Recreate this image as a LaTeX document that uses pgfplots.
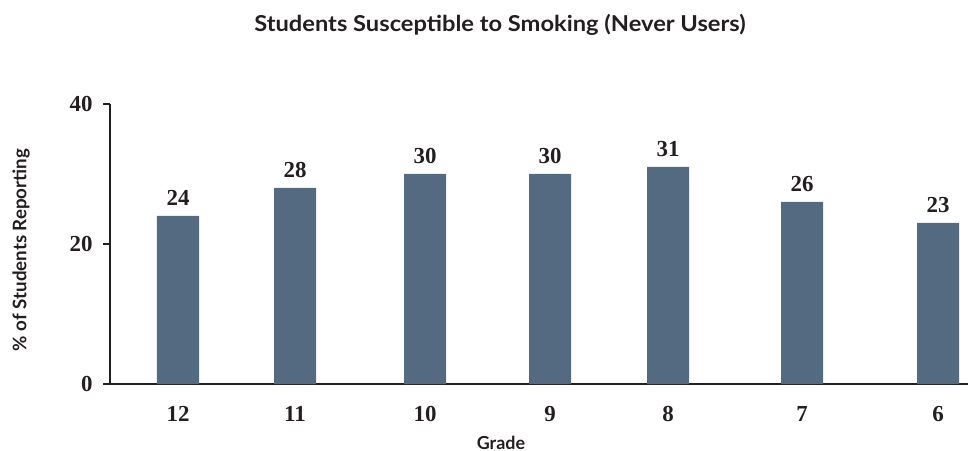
\documentclass[border=0pt]{standalone}
\usepackage{pgfplots}
\pgfplotsset{compat=1.18}
\usepackage{fontspec}
\setmainfont{Liberation Serif}
\newfontfamily\headfont{Lato}[FakeStretch=1.08]
\newfontfamily\labelfont{Lato}
\definecolor{barblue}{RGB}{84,106,129}
\definecolor{axisdark}{RGB}{35,31,32}
\begin{document}
\begin{tikzpicture}
% fixed page frame: axis origin sits 110bp from the left and 67bp above the bottom
\useasboundingbox (-110bp,-67bp) rectangle (859bp,384bp);
\begin{axis}[
  scale only axis,
  width=858bp, height=280bp,
  xmin=110, xmax=968,
  ymin=0, ymax=40,
  clip=false,
  axis x line=bottom, axis y line=left,
  axis line style={-, line width=1.8bp, color=axisdark},
  ytick={0,20,40},
  xtick={178,295,425,550,668,802,938},
  xticklabels={12,11,10,9,8,7,6},
  major x tick style={draw=none},
  extra x ticks={237,359,491,610,735,869},
  extra x tick labels={},
  extra x tick style={major tick length=7bp, tick style={line width=1.8bp, color=axisdark}},
  tick align=outside,
  major tick length=7bp,
  tick style={line width=1.8bp, color=axisdark},
  /pgf/number format/assume math mode=true,
  ticklabel style={font=\fontsize{23}{23}\selectfont\bfseries, text=axisdark},
  xticklabel style={yshift=-12bp},
  yticklabel style={xshift=-7bp},
  title={Students Susceptible to Smoking (Never Users)},
  title style={at={([yshift=347bp]axis description cs:0.4545,0)}, anchor=base,
    font=\headfont\bfseries\fontsize{22}{22}\selectfont, text=axisdark},
  xlabel={Grade},
  xlabel style={at={([yshift=-65bp]axis description cs:0.4557,0)}, anchor=base,
    font=\labelfont\bfseries\fontsize{18}{18}\selectfont, text=axisdark},
  ylabel={\% of Students Reporting},
  ylabel style={at={([xshift=-89bp]axis description cs:0,0.4786)}, anchor=center,
    font=\labelfont\bfseries\fontsize{18.8}{18.8}\selectfont, text=axisdark},
]
\addplot[ybar, bar width=42, fill=barblue, draw=none,
  nodes near coords,
  every node near coord/.append style={anchor=south, inner sep=0pt, yshift=10bp,
    font=\fontsize{23}{23}\selectfont\bfseries, text=axisdark},
  /pgf/number format/assume math mode=true]
coordinates {(178,24) (295,28) (425,30) (550,30) (668,31) (802,26) (938,23)};
\end{axis}
\end{tikzpicture}
\end{document}
